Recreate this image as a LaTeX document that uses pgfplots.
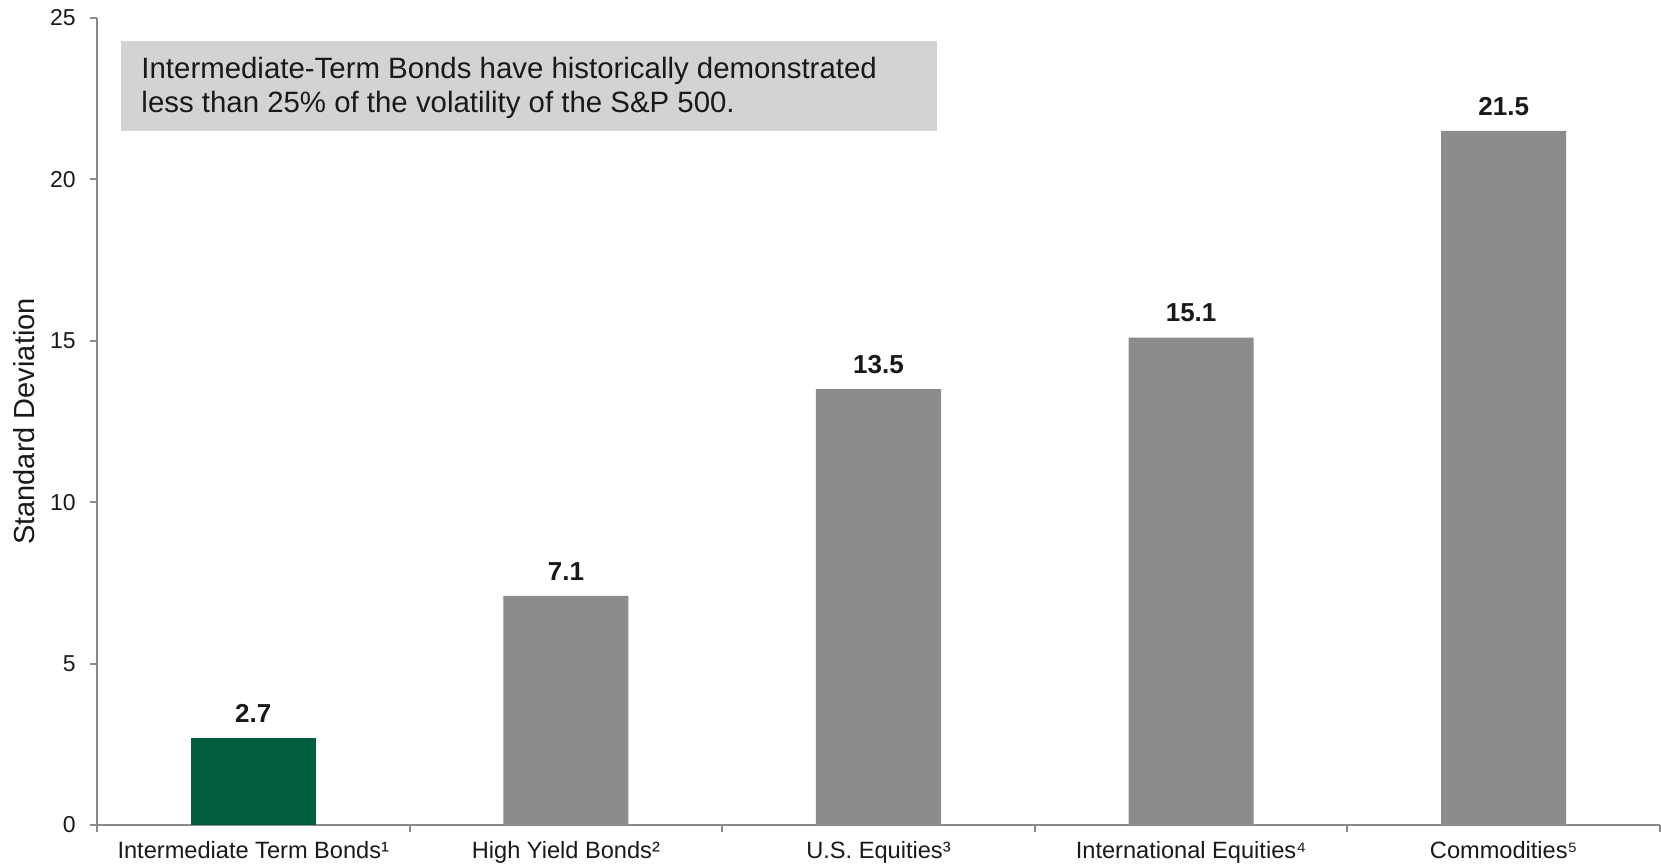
\documentclass[border=0pt]{standalone}
\usepackage{fontspec}
\setmainfont{Liberation Sans}
\usepackage{pgfplots}
\pgfplotsset{compat=1.18}
\definecolor{bargray}{HTML}{8C8C8C}
\definecolor{bondgreen}{HTML}{035E3F}
\definecolor{axisgray}{HTML}{898989}
\definecolor{boxgray}{HTML}{D3D3D3}
\begin{document}
\begin{tikzpicture}
\begin{axis}[
  scale only axis,
  width=781.5pt, height=403.5pt,
  xmin=-0.5, xmax=4.5, ymin=0, ymax=25,
  axis x line=bottom, axis y line=left,
  axis line style={draw=axisgray, line width=1pt, -},
  /pgf/number format/assume math mode=true,
  ytick={0,5,...,25},
  xtick={0,1,2,3,4},
  xticklabels={Intermediate Term Bonds¹,
    High Yield Bonds²,
    U.S. Equities³,
    International Equities⁴,
    Commodities⁵},
  minor xtick={-0.5,0.5,...,4.5},
  tick align=outside,
  major tick length=3.5pt,
  minor tick length=3.5pt,
  major x tick style={draw=none},
  tick style={draw=axisgray, line width=1pt},
  ticklabel style={font=\fontsize{11.5}{13.8}\selectfont, text=black!90},
  yticklabel style={inner sep=0pt, xshift=-7pt},
  xticklabel style={inner sep=0pt, yshift=-4.5pt, font=\fontsize{11.8}{13.8}\selectfont},
  ylabel={Standard Deviation},
  every axis y label/.style={at={(rel axis cs:-0.0467,0.5)}, rotate=90,
    anchor=center, font=\fontsize{14.5}{17}\selectfont, text=black!90},
  ybar, bar width=0.4, bar shift=0pt,
  nodes near coords={\pgfmathprintnumber[fixed,fixed zerofill,precision=1]{\pgfplotspointmeta}},
  nodes near coords style={font=\bfseries\fontsize{13}{15}\selectfont,
    text=black!90, anchor=south, inner sep=0pt, yshift=7.5pt},
  clip=false,
]
\fill[boxgray] (axis cs:-0.423,24.3) rectangle (axis cs:2.187,21.5);
\node[anchor=north west, align=left, inner sep=0pt,
  font=\fontsize{14.7}{17}\selectfont, text=black!90]
  at (axis cs:-0.359,23.8)
  {Intermediate-Term Bonds have historically demonstrated\\
   less than 25\% of the volatility of the S\&P 500.};
\addplot[draw=none, fill=bondgreen] coordinates {(0,2.7)};
\addplot[draw=none, fill=bargray] coordinates {(1,7.1) (2,13.5) (3,15.1) (4,21.5)};
\end{axis}
\pgfresetboundingbox
\path[use as bounding box] ([shift={(-48.5pt,-20pt)}]current axis.south west)
  rectangle ([shift={(0.5pt,9pt)}]current axis.north east);
\end{tikzpicture}
\end{document}
